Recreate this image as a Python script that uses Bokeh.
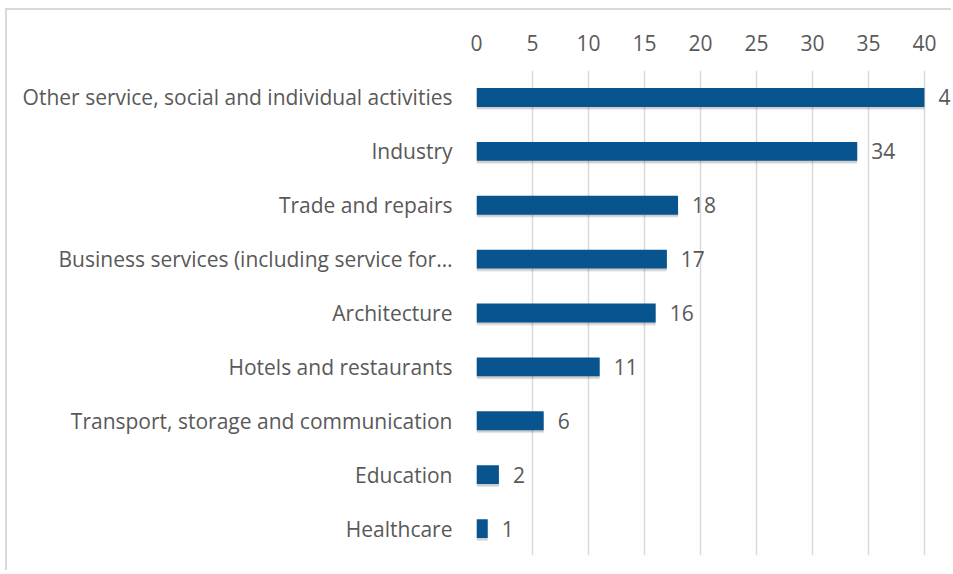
from bokeh.plotting import figure
from bokeh.models import ColumnDataSource, Range1d, FactorRange, FixedTicker, LabelSet
from bokeh.core.properties import value
from bokeh.transform import dodge
from bokeh.embed import file_html
from bokeh.resources import INLINE

categories = [
    "Other service, social and individual activities",
    "Industry",
    "Trade and repairs",
    "Business services (including service for…",
    "Architecture",
    "Hotels and restaurants",
    "Transport, storage and communication",
    "Education",
    "Healthcare",
]
values = [40, 34, 18, 17, 16, 11, 6, 2, 1]
x_ticks = [0, 5, 10, 15, 20, 25, 30, 35, 40]

FONT = "Open Sans"
FS = "21px"
TXT = "#595959"
BAR = "#08548f"

src = ColumnDataSource(dict(cat=categories, val=values, lab=[str(v) for v in values]))

p = figure(
    width=946, height=562,
    y_range=FactorRange(*list(reversed(categories)), range_padding=0),
    x_range=Range1d(0, 42.6),
    x_axis_location="above",
    output_backend="svg", toolbar_location=None,
    min_border_left=469, min_border_top=60, min_border_bottom=17, min_border_right=0,
)
p.outline_line_color = None
p.background_fill_color = "white"
p.border_fill_color = "white"
p.styles = {"border-left": "2px solid #d9d9d9", "border-top": "2px solid #d9d9d9",
            "margin-top": "8px", "margin-left": "5px"}

# soft shadow under bars
p.hbar(y=dodge("cat", -0.05, range=p.y_range), right="val", left=0, height=0.36,
       source=src, color="#000000", alpha=0.10, line_color=None)
p.hbar(y=dodge("cat", -0.03, range=p.y_range), right="val", left=0, height=0.36,
       source=src, color="#000000", alpha=0.10, line_color=None)
p.hbar(y="cat", right="val", left=0, height=0.35, source=src, color=BAR, line_color=None)

labels = LabelSet(x="val", y="cat", text="lab", source=src, x_offset=14,
                  text_font=value(FONT), text_font_size=value(FS), text_color=TXT,
                  text_baseline="middle", text_align="left")
p.add_layout(labels)

p.xaxis.ticker = FixedTicker(ticks=x_ticks)
for ax in (p.xaxis[0], p.yaxis[0]):
    ax.axis_line_color = None
    ax.major_tick_line_color = None
    ax.minor_tick_line_color = None
    ax.major_label_text_font = FONT
    ax.major_label_text_font_size = FS
    ax.major_label_text_color = TXT
p.xaxis.major_label_standoff = 14
p.yaxis.major_label_standoff = 18

p.xgrid.ticker = FixedTicker(ticks=x_ticks)
p.xgrid.grid_line_color = "#d9d9d9"
p.xgrid.grid_line_width = 1.5
p.ygrid.grid_line_color = None

open("out.html", "w").write(file_html(p, INLINE))
